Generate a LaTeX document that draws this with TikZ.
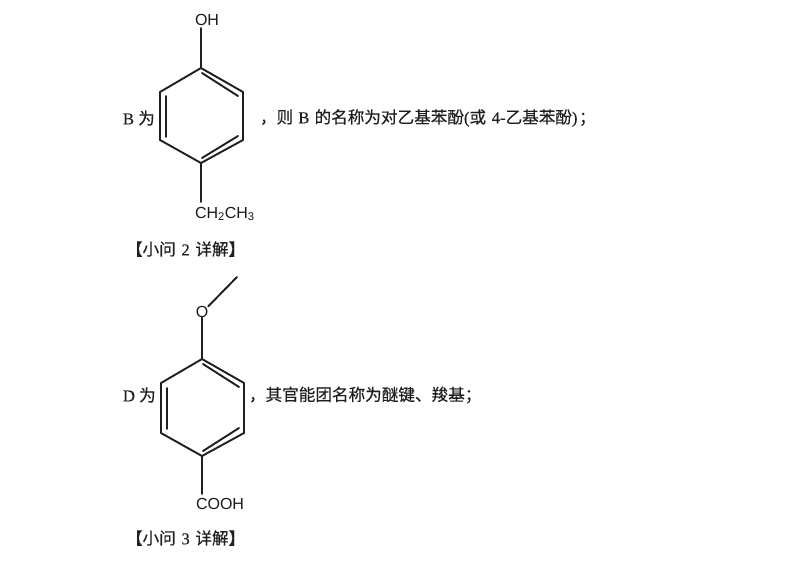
\documentclass[tikz,border=0pt]{standalone}
\usepackage{fontspec}
\setmainfont[FakeBold=0.25]{Liberation Serif}
\setsansfont{Liberation Sans}
\newfontfamily\cjk[FakeBold=0.3]{Noto Sans CJK SC}
\newcommand{\zh}[1]{{\cjk #1}}
\tikzset{
  bond/.style={line width=1.9pt,draw=black!88,line cap=round,line join=round},
  txt/.style={anchor=west,inner sep=0pt,outer sep=0pt,text=black!88,font=\fontsize{16.6}{18}\selectfont},
  atom/.style={inner sep=0pt,outer sep=0pt,text=black!90,font=\sffamily\fontsize{16}{18}\selectfont}
}
\begin{document}
\begin{tikzpicture}[x=1pt,y=-1pt]
\useasboundingbox[fill=white] (0,0) rectangle (800,566);
% molecule B
\coordinate (a1) at (201,68);
\coordinate (a2) at (243,92);
\coordinate (a3) at (243,140);
\coordinate (a4) at (201,163);
\coordinate (a5) at (160,140);
\coordinate (a6) at (160,92);
\coordinate (a7) at (202,73);
\coordinate (a8) at (238,96);
\coordinate (a9) at (238,136);
\coordinate (a10) at (202,158);
\coordinate (a11) at (166,96);
\coordinate (a12) at (166,137);
\coordinate (a13) at (201,28);
\coordinate (a14) at (201,202);
\node[atom] (oh) at (207,20) {OH};
\node[atom,anchor=west] (eth) at (195,214) {CH\textsubscript{2}CH\textsubscript{3}};
\draw[bond] (a1)--(a2)--(a3)--(a4)--(a5)--(a6)--cycle;
\draw[bond] (a7)--(a8) (a9)--(a10) (a11)--(a12);
\draw[bond] (a13)--(a1) (a4)--(a14);
% molecule D
\coordinate (d1) at (202,359);
\coordinate (d2) at (244,383);
\coordinate (d3) at (244,433);
\coordinate (d4) at (202,456);
\coordinate (d5) at (161,433);
\coordinate (d6) at (161,383);
\coordinate (d7) at (203,364);
\coordinate (d8) at (239,387);
\coordinate (d9) at (239,428);
\coordinate (d10) at (203,451);
\coordinate (d11) at (167,388);
\coordinate (d12) at (167,429);
\coordinate (d13) at (237,277);
\coordinate (d14) at (202,494);
\node[atom] (o) at (202,312) {O};
\node[atom,anchor=west] (cooh) at (196,504) {COOH};
\draw[bond] (o.south)--(d1) (d4)--(d14);
\draw[bond] (d1)--(d2)--(d3)--(d4)--(d5)--(d6)--cycle;
\draw[bond] (d7)--(d8) (d9)--(d10) (d11)--(d12);
\draw[bond] (o.north east)--(d13);
% texts
\node[txt] (t1) at (123,118) {B \zh{为}};
\node[txt] (t2) at (260,118) {\zh{，则}\hspace{1pt} B \hspace{1pt}\zh{的名称为对乙基苯酚}(\zh{或}\hspace{1.5pt} 4-\zh{乙基苯酚})\hspace{1.5pt}\zh{；}};
\node[txt] (t3) at (126,249) {\zh{【小问}\hspace{1.5pt} 2 \hspace{1.5pt}\zh{详解】}};
\node[txt] (t4) at (123,395) {D \zh{为}};
\node[txt] (t5) at (249,395) {\zh{，其官能团名称为醚键、羧基；}};
\node[txt] (t6) at (126,538) {\zh{【小问}\hspace{1.5pt} 3 \hspace{1.5pt}\zh{详解】}};
\end{tikzpicture}
\end{document}
